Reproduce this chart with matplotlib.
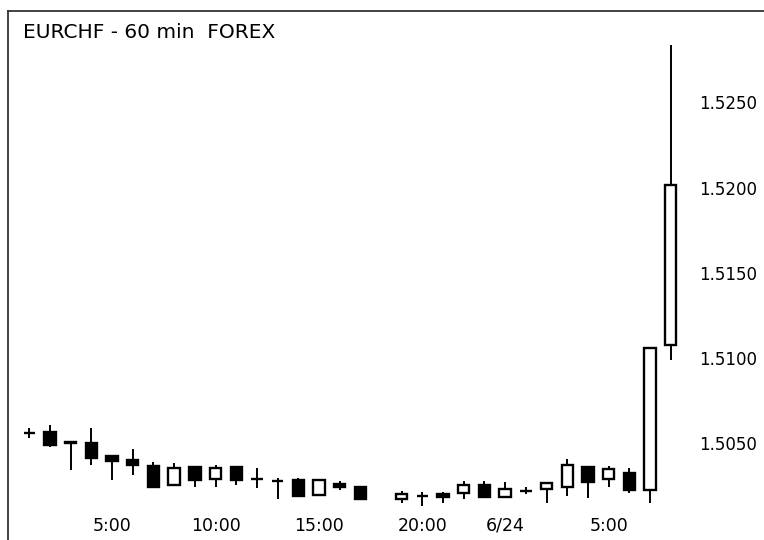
import numpy as np
import matplotlib
matplotlib.use("Agg")
import matplotlib.pyplot as plt

# hourly EURCHF bars (hour index counted from the start of 6/23)
hours = [1, 2, 3, 4, 5, 6, 7, 8, 9, 10, 11, 12, 13, 14, 15, 16, 17,
         19, 20, 21, 22, 23, 24, 25, 26, 27, 28, 29, 30, 31, 32]
opens = [1.50558, 1.50564, 1.50506, 1.50500, 1.50423, 1.50400, 1.50365, 1.50253,
         1.50359, 1.50288, 1.50359, 1.50288, 1.50277, 1.50282, 1.50194, 1.50259,
         1.50241, 1.50171, 1.50188, 1.50200, 1.50206, 1.50253, 1.50183, 1.50218,
         1.50230, 1.50241, 1.50359, 1.50288, 1.50324, 1.50224, 1.51075]
highs = [1.50588, 1.50605, 1.50506, 1.50588, 1.50423, 1.50464, 1.50388, 1.50382,
         1.50365, 1.50371, 1.50365, 1.50353, 1.50294, 1.50294, 1.50282, 1.50277,
         1.50241, 1.50218, 1.50212, 1.50212, 1.50277, 1.50277, 1.50271, 1.50241,
         1.50265, 1.50406, 1.50359, 1.50365, 1.50353, 1.51063, 1.52837]
lows = [1.50529, 1.50476, 1.50341, 1.50371, 1.50282, 1.50312, 1.50235, 1.50247,
        1.50241, 1.50241, 1.50253, 1.50235, 1.50171, 1.50183, 1.50188, 1.50224,
        1.50171, 1.50147, 1.50130, 1.50147, 1.50171, 1.50183, 1.50183, 1.50200,
        1.50147, 1.50188, 1.50177, 1.50241, 1.50206, 1.50147, 1.50987]
closes = [1.50558, 1.50488, 1.50500, 1.50412, 1.50394, 1.50371, 1.50241, 1.50353,
          1.50282, 1.50353, 1.50282, 1.50288, 1.50277, 1.50188, 1.50282, 1.50241,
          1.50171, 1.50200, 1.50188, 1.50183, 1.50253, 1.50183, 1.50230, 1.50218,
          1.50265, 1.50371, 1.50271, 1.50347, 1.50224, 1.51058, 1.52015]

xtick_pos = [5, 10, 15, 20, 24, 29]
xtick_labels = ["5:00", "10:00", "15:00", "20:00", "6/24", "5:00"]
ytick_pos = [1.5050, 1.5100, 1.5150, 1.5200, 1.5250]
ytick_labels = ["1.5050", "1.5100", "1.5150", "1.5200", "1.5250"]

plt.rcParams['font.family'] = ['DejaVu Sans']

W, H = 764, 540
fig = plt.figure(figsize=(W / 100, H / 100), dpi=100)
ax = fig.add_axes([7.5 / W, 0, 1 - 7.5 / W, 529.5 / H])

o = np.array(opens)
c = np.array(closes)
x = np.array(hours)

# wicks first, bodies on top
ax.vlines(x, lows, highs, color='black', linewidth=1.4, zorder=1)
up = c >= o
bottoms = np.minimum(o, c)
heights = np.abs(c - o)
ax.bar(x[up], heights[up], bottom=bottoms[up], width=0.55,
       facecolor='white', edgecolor='black', linewidth=1.7, zorder=2)
ax.bar(x[~up], heights[~up], bottom=bottoms[~up], width=0.55,
       facecolor='black', edgecolor='black', linewidth=1.7, zorder=2)

ax.set_xlim(-0.054, 36.51)
ax.set_ylim(1.499301, 1.530394)

ax.set_xticks(xtick_pos)
ax.set_xticklabels(xtick_labels, fontsize=12.5)
ax.set_yticks(ytick_pos)
ax.set_yticklabels(ytick_labels, fontsize=12)
ax.yaxis.tick_right()
ax.tick_params(axis='y', length=0, pad=-46.8)
for lab in ax.get_yticklabels():
    lab.set_horizontalalignment('left')
ax.tick_params(axis='x', length=0, pad=-6.5)
for lab in ax.get_xticklabels():
    lab.set_verticalalignment('baseline')

for side in ['right', 'bottom']:
    ax.spines[side].set_visible(False)
for side in ['left', 'top']:
    ax.spines[side].set_color('#333333')
    ax.spines[side].set_linewidth(1.3)

fig.text(23 / W, 1 - 32 / H, "EURCHF - 60 min  FOREX", fontsize=14.5,
         ha='left', va='center')

plt.savefig("out.png", dpi=100)
